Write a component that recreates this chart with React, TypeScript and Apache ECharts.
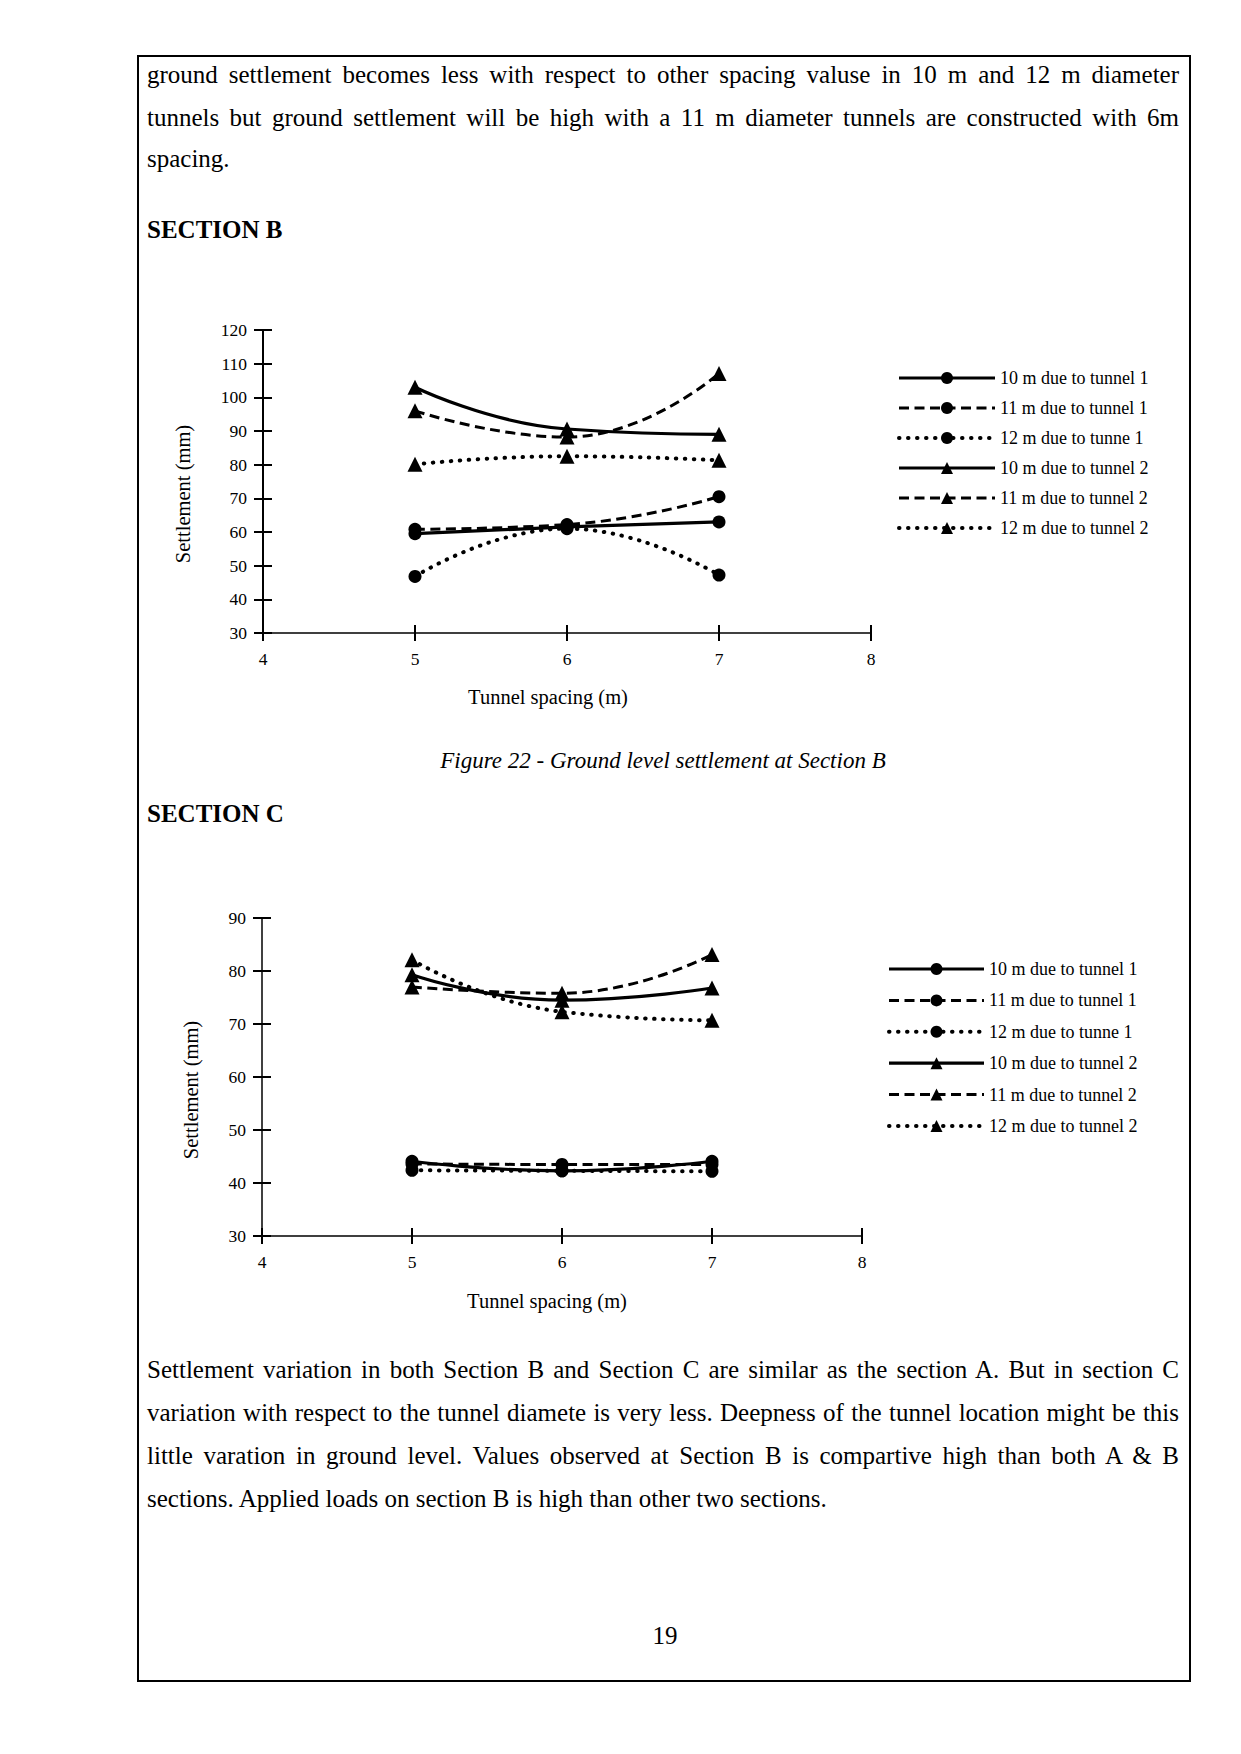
import React, { useEffect, useRef } from "react";
import * as echarts from "echarts";

const FONT = '"Liberation Serif", "Times New Roman", serif';

// ---------- data ----------
const spacing = [5, 6, 7];
const seriesNames = [
  "10 m due to tunnel 1",
  "11 m due to tunnel 1",
  "12 m due to tunne 1",
  "10 m due to tunnel 2",
  "11 m due to tunnel 2",
  "12 m due to tunnel 2",
];
const xTicks = { min: 4, max: 8, interval: 1 };

// Section B settlements (mm)
const b10t1 = [59.5, 61.5, 63];
const b11t1 = [60.8, 62.2, 70.5];
const b12t1 = [46.8, 61, 47.2];
const b10t2 = [103, 90.6, 89];
const b11t2 = [96, 88.2, 107.1];
const b12t2 = [80.1, 82.5, 81.3];
const yTicksB = { min: 30, max: 120, interval: 10 };

// Section C settlements (mm)
const c10t1 = [44.1, 42.3, 44.1];
const c11t1 = [43.6, 43.5, 43.5];
const c12t1 = [42.4, 42.3, 42.2];
const c10t2 = [79.3, 74.5, 76.8];
const c11t2 = [77, 75.8, 83.1];
const c12t2 = [82.1, 72.3, 70.7];
const yTicksC = { min: 30, max: 90, interval: 10 };

const para1 = [
  "ground settlement becomes less with respect to other spacing valuse in 10 m and 12 m diameter",
  "tunnels but ground settlement will be high with a 11 m diameter tunnels are constructed with 6m",
  "spacing.",
];
const para2 = [
  "Settlement variation in both Section B and Section C are similar as the section A. But in section C",
  "variation with respect to the tunnel diamete is very less. Deepness of the tunnel location might be this",
  "little varation in ground level. Values observed at Section B is compartive high than both A & B",
  "sections. Applied loads on section B is high than other two sections.",
];

type Cfg = {
  values: number[][];
  yTicks: { min: number; max: number; interval: number };
  grid: { left: number; top: number; width: number; height: number };
  legend: { left: number; top: number; itemWidth: number; itemGap: number };
  xName: { x: number; y: number };
  yName: { x: number; y: number };
  yAxisWidth: number;
  xAxisWidth: number;
};

const lineTypes: any[] = ["solid", [10, 5.5], [0.5, 8.5]];

function buildOption(cfg: Cfg) {
  const tickStyle = { color: "#000", width: 2 };
  const series = cfg.values.map((vals, i) => {
    const kind = i % 3;
    const isCircle = i < 3;
    return {
      type: "line",
      name: seriesNames[i],
      data: spacing.map((s, k) => [s, vals[k]]),
      smooth: 0.5,
      symbol: isCircle ? "circle" : "triangle",
      symbolSize: isCircle ? 13 : 15,
      itemStyle: { color: "#000" },
      lineStyle: {
        color: "#000",
        width: kind === 0 ? 3.2 : kind === 1 ? 3 : 4,
        type: lineTypes[kind],
        cap: kind === 2 ? "round" : "butt",
      },
      xAxisIndex: 0,
      yAxisIndex: 0,
      z: 3,
    };
  });
  const xBase = {
    type: "value",
    min: xTicks.min,
    max: xTicks.max,
    interval: xTicks.interval,
    position: "bottom",
    splitLine: { show: false },
  };
  const yBase = {
    type: "value",
    min: cfg.yTicks.min,
    max: cfg.yTicks.max,
    interval: cfg.yTicks.interval,
    position: "left",
    splitLine: { show: false },
  };
  return {
    animation: false,
    backgroundColor: "transparent",
    grid: { ...cfg.grid, containLabel: false },
    xAxis: [
      {
        ...xBase,
        axisLine: { show: true, onZero: false, lineStyle: { color: "#000", width: cfg.xAxisWidth } },
        axisTick: { show: true, inside: false, length: 8, lineStyle: tickStyle },
        axisLabel: { color: "#000", fontFamily: FONT, fontSize: 17.5, margin: 17 },
      },
      {
        ...xBase,
        axisLine: { show: false, onZero: false },
        axisTick: { show: true, inside: true, length: 8, lineStyle: tickStyle },
        axisLabel: { show: false },
      },
    ],
    yAxis: [
      {
        ...yBase,
        axisLine: { show: true, onZero: false, lineStyle: { color: "#000", width: cfg.yAxisWidth } },
        axisTick: { show: true, inside: false, length: 9, lineStyle: tickStyle },
        axisLabel: { color: "#000", fontFamily: FONT, fontSize: 17.5, margin: 16 },
      },
      {
        ...yBase,
        axisLine: { show: false, onZero: false },
        axisTick: { show: true, inside: true, length: 9, lineStyle: tickStyle },
        axisLabel: { show: false },
      },
    ],
    legend: {
      orient: "vertical",
      left: cfg.legend.left,
      top: cfg.legend.top,
      padding: 0,
      itemWidth: cfg.legend.itemWidth,
      itemHeight: 15,
      itemGap: cfg.legend.itemGap,
      selectedMode: false,
      data: seriesNames,
      lineStyle: { width: "inherit", cap: "inherit" },
      textStyle: { color: "#000", fontFamily: FONT, fontSize: 18, lineHeight: 20 },
    },
    graphic: [
      {
        type: "text",
        x: cfg.xName.x,
        y: cfg.xName.y,
        style: {
          text: "Tunnel spacing (m)",
          font: `20.5px ${FONT}`,
          fill: "#000",
          align: "center",
          verticalAlign: "middle",
        },
      },
      {
        type: "text",
        x: cfg.yName.x,
        y: cfg.yName.y,
        rotation: Math.PI / 2,
        style: {
          text: "Settlement (mm)",
          font: `20.5px ${FONT}`,
          fill: "#000",
          align: "center",
          verticalAlign: "middle",
        },
      },
    ],
    series,
  };
}

const cfgB: Cfg = {
  values: [b10t1, b11t1, b12t1, b10t2, b11t2, b12t2],
  yTicks: yTicksB,
  grid: { left: 113, top: 40, width: 608, height: 303 },
  legend: { left: 747, top: 78, itemWidth: 96, itemGap: 10 },
  xName: { x: 398, y: 407 },
  yName: { x: 33, y: 204 },
  yAxisWidth: 2,
  xAxisWidth: 1.5,
};

const cfgC: Cfg = {
  values: [c10t1, c11t1, c12t1, c10t2, c11t2, c12t2],
  yTicks: yTicksC,
  grid: { left: 112, top: 38, width: 600, height: 318 },
  legend: { left: 737, top: 79, itemWidth: 95, itemGap: 11.4 },
  xName: { x: 397, y: 421 },
  yName: { x: 41, y: 210 },
  yAxisWidth: 1.5,
  xAxisWidth: 1.5,
};

function Chart({ cfg, left, top }: { cfg: Cfg; left: number; top: number }) {
  const ref = useRef<HTMLDivElement>(null);
  useEffect(() => {
    if (!ref.current) return;
    const chart = echarts.init(ref.current, undefined, { renderer: "svg" });
    chart.setOption(buildOption(cfg) as any);
    return () => chart.dispose();
  }, [cfg]);
  return (
    <div
      ref={ref}
      style={{ position: "absolute", left, top, width: 1040, height: 440 }}
    />
  );
}

function TextLine({ text, cy, justify }: { text: string; cy: number; justify: boolean }) {
  return (
    <div
      style={{
        position: "absolute",
        left: 147,
        width: 1032,
        top: cy - 21,
        height: 42,
        lineHeight: "42px",
        fontSize: 25,
        textAlign: justify ? "justify" : "left",
        textAlignLast: justify ? "justify" : "auto",
      } as any}
    >
      {text}
    </div>
  );
}

export default function App() {
  const p1y = [75, 117.5, 159];
  const p2y = [1370, 1413, 1456, 1498.5];
  return (
    <div
      style={{
        position: "absolute",
        left: 0,
        top: 0,
        width: 1241,
        height: 1754,
        background: "#fff",
        fontFamily: FONT,
        color: "#000",
        overflow: "hidden",
      }}
    >
      <div
        style={{
          position: "absolute",
          left: 137,
          top: 55,
          width: 1054,
          height: 1627,
          border: "2px solid #000",
          boxSizing: "border-box",
        }}
      />
      {para1.map((t, i) => (
        <TextLine key={"a" + i} text={t} cy={p1y[i]} justify={i < para1.length - 1} />
      ))}
      <div
        style={{
          position: "absolute",
          left: 147,
          top: 230 - 21,
          height: 42,
          lineHeight: "42px",
          fontSize: 25,
          fontWeight: "bold",
        }}
      >
        SECTION B
      </div>
      <Chart cfg={cfgB} left={150} top={290} />
      <div
        style={{
          position: "absolute",
          left: 147,
          width: 1032,
          top: 761 - 21,
          height: 42,
          lineHeight: "42px",
          fontSize: 23,
          fontStyle: "italic",
          textAlign: "center",
        }}
      >
        Figure 22 - Ground level settlement at Section B
      </div>
      <div
        style={{
          position: "absolute",
          left: 147,
          top: 814 - 21,
          height: 42,
          lineHeight: "42px",
          fontSize: 25,
          fontWeight: "bold",
        }}
      >
        SECTION C
      </div>
      <Chart cfg={cfgC} left={150} top={880} />
      {para2.map((t, i) => (
        <TextLine key={"b" + i} text={t} cy={p2y[i]} justify={i < para2.length - 1} />
      ))}
      <div
        style={{
          position: "absolute",
          left: 615,
          width: 100,
          top: 1636 - 21,
          height: 42,
          lineHeight: "42px",
          fontSize: 25,
          textAlign: "center",
        }}
      >
        19
      </div>
    </div>
  );
}
